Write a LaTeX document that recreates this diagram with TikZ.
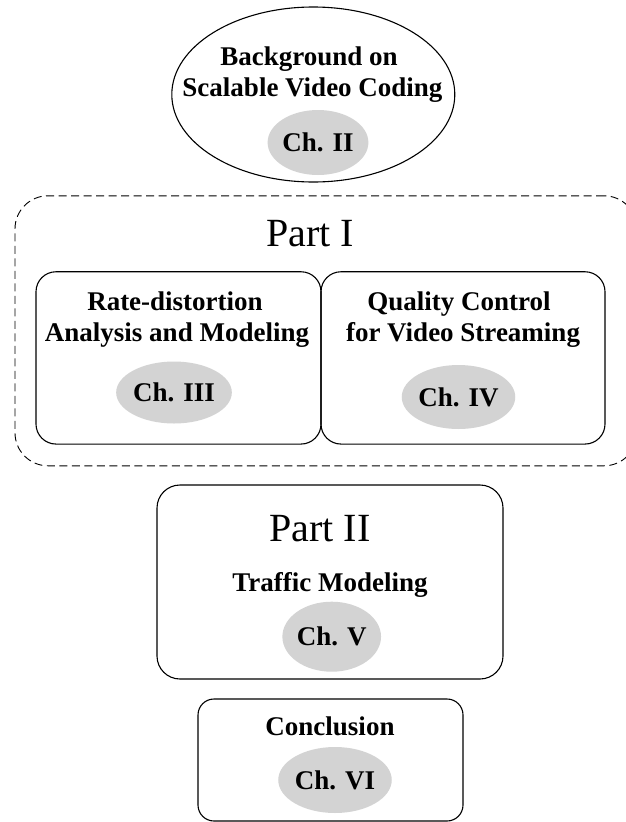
\documentclass[tikz,border=0pt]{standalone}
\usepackage{fontspec}
\setmainfont{Liberation Serif}
\usetikzlibrary{shapes.geometric}
\definecolor{chapgray}{RGB}{211,211,211}
\begin{document}
\begin{tikzpicture}[x=1pt,y=-1pt,
  frame/.style={draw, line width=1.1pt, rounded corners=#1, inner sep=0pt},
  partframe/.style={draw, line width=0.9pt, dash pattern=on 8pt off 4.5pt, rounded corners=33pt, inner sep=0pt},
  topic/.style={font=\fontsize{27}{31}\selectfont\bfseries, anchor=base, inner sep=0pt},
  parttitle/.style={font=\fontsize{40}{46}\selectfont, anchor=base, inner sep=0pt},
  chap/.style={ellipse, fill=chapgray, inner sep=0pt, minimum width=91pt, minimum height=65pt,
               font=\fontsize{27}{31}\selectfont\bfseries}
]
\useasboundingbox (0,0) rectangle (626,822);
\clip (0,0) rectangle (626,822);

% Background chapter
\node[ellipse, draw, line width=1.1pt, minimum width=283pt, minimum height=175pt, inner sep=0pt] (bgshape) at (313.3,94.5) {};
\node[topic] (bgline1) at (309,65) {Background on};
\node[topic] (bgline2) at (312.5,96.7) {Scalable Video Coding};
\node[chap] (ch2) at (318,142.5) {Ch. II};

% Part I
\node[partframe, minimum width=622pt, minimum height=270pt] (part1) at (326,330.8) {};
\node[parttitle] (part1title) at (310,246.7) {Part I};

\node[frame=20pt, minimum width=285pt, minimum height=172.3pt] (rdbox) at (178.5,357.9) {};
\node[topic] (rdline1) at (175,310) {Rate-distortion};
\node[topic] (rdline2) at (177,341.7) {Analysis and Modeling};
\node[chap, minimum width=93pt, minimum height=62pt] (ch3) at (174,392.5) {Ch. III};

\node[frame=20pt, minimum width=284pt, minimum height=172.3pt] (qcbox) at (463,357.9) {};
\node[topic] (qcline1) at (459,310) {Quality Control};
\node[topic] (qcline2) at (463,341.7) {for Video Streaming};
\node[chap, minimum width=93pt, minimum height=64pt] (ch4) at (458.5,397) {Ch. IV};

% Part II
\node[frame=23pt, minimum width=346pt, minimum height=194pt] (part2) at (330,582) {};
\node[parttitle] (part2title) at (320,541.7) {Part II};
\node[topic] (tmline) at (330,591.7) {Traffic Modeling};
\node[chap, minimum width=90pt, minimum height=70pt] (ch5) at (331.7,636.7) {Ch. V};

% Conclusion
\node[frame=16pt, minimum width=265pt, minimum height=122pt] (concl) at (330.5,760) {};
\node[topic] (conclline) at (330,735) {Conclusion};
\node[chap, minimum width=90pt, minimum height=66pt] (ch6) at (335,780) {Ch. VI};
\end{tikzpicture}
\end{document}
